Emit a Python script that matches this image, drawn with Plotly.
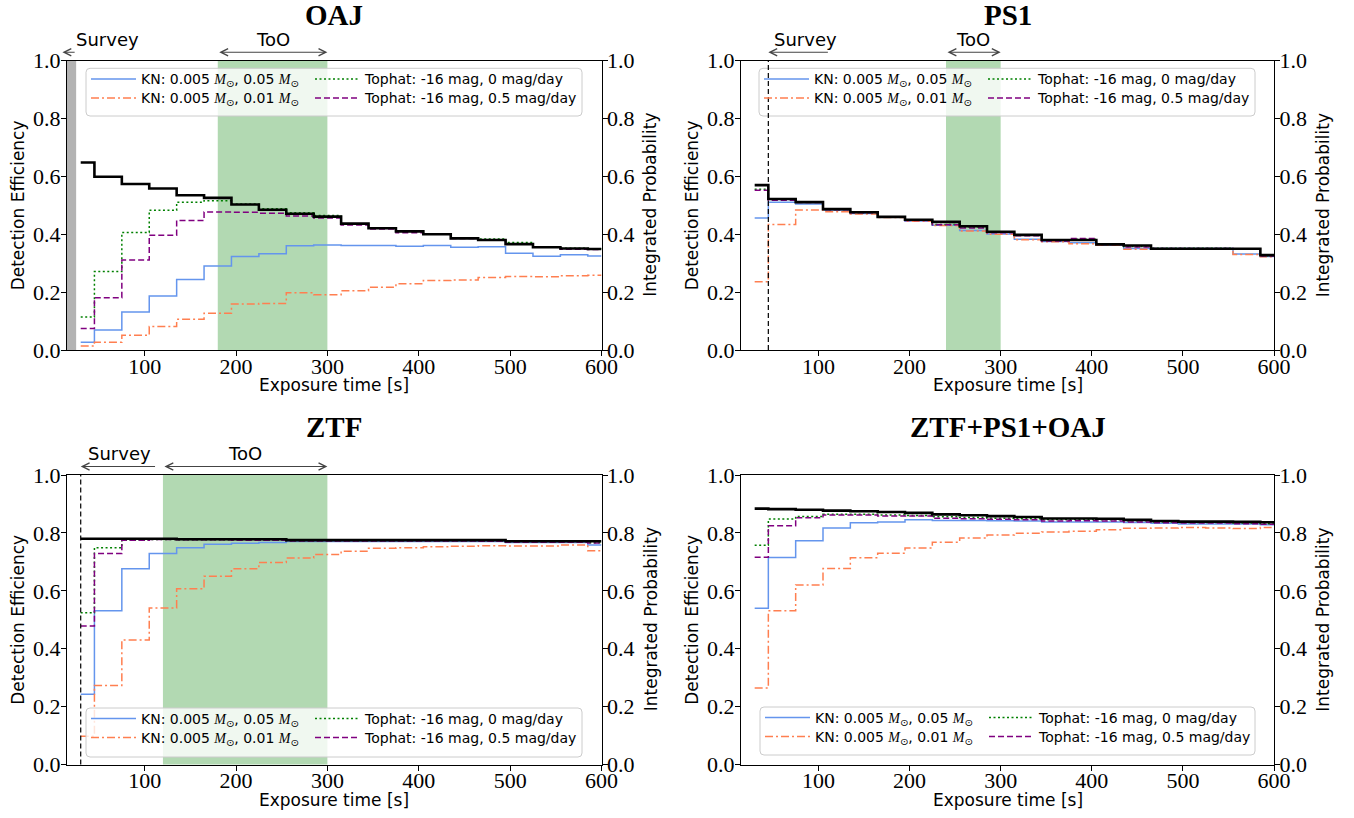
import plotly.graph_objects as go

# ---------------- data ----------------
exposure_s = [30, 60, 90, 120, 150, 180, 210, 240, 270, 300,
              330, 360, 390, 420, 450, 480, 510, 540, 570, 600]

panel_titles = ["OAJ", "PS1", "ZTF", "ZTF+PS1+OAJ"]

M_SUN = "<span style='font-family:Liberation Serif'><i>M</i></span><sub>⊙</sub>"
series_labels = [
    "KN: 0.005 " + M_SUN + ", 0.05 " + M_SUN,
    "KN: 0.005 " + M_SUN + ", 0.01 " + M_SUN,
    "Tophat: -16 mag, 0 mag/day",
    "Tophat: -16 mag, 0.5 mag/day",
]

# OAJ
oaj_integrated_prob = [0.648, 0.599, 0.574, 0.558, 0.535, 0.526, 0.503, 0.485, 0.471, 0.461,
                       0.437, 0.421, 0.410, 0.400, 0.386, 0.380, 0.366, 0.355, 0.351, 0.349]
oaj_kn_005 = [0.027, 0.069, 0.131, 0.187, 0.244, 0.290, 0.323, 0.333, 0.360, 0.363,
              0.361, 0.361, 0.359, 0.361, 0.355, 0.357, 0.334, 0.324, 0.329, 0.325]
oaj_kn_001 = [0.014, 0.027, 0.051, 0.081, 0.106, 0.127, 0.159, 0.161, 0.198, 0.191,
              0.205, 0.217, 0.229, 0.240, 0.242, 0.251, 0.254, 0.253, 0.257, 0.258]
oaj_tophat_0 = [0.114, 0.271, 0.406, 0.483, 0.511, 0.516, 0.505, 0.488, 0.474, 0.465,
                0.435, 0.423, 0.411, 0.401, 0.388, 0.384, 0.372, 0.357, 0.352, 0.350]
oaj_tophat_05 = [0.074, 0.181, 0.311, 0.397, 0.448, 0.477, 0.476, 0.473, 0.463, 0.456,
                 0.432, 0.418, 0.405, 0.400, 0.385, 0.380, 0.366, 0.355, 0.348, 0.347]

# PS1
ps1_integrated_prob = [0.570, 0.522, 0.511, 0.487, 0.476, 0.460, 0.450, 0.443, 0.428, 0.409,
                       0.398, 0.380, 0.380, 0.365, 0.361, 0.350, 0.350, 0.350, 0.350, 0.328]
ps1_kn_005 = [0.456, 0.511, 0.505, 0.484, 0.472, 0.459, 0.446, 0.431, 0.413, 0.401,
              0.383, 0.375, 0.371, 0.363, 0.351, 0.351, 0.351, 0.351, 0.332, 0.323]
ps1_kn_001 = [0.236, 0.434, 0.484, 0.478, 0.470, 0.458, 0.445, 0.430, 0.411, 0.400,
              0.381, 0.374, 0.367, 0.362, 0.348, 0.350, 0.350, 0.350, 0.330, 0.322]
ps1_tophat_0 = [0.556, 0.520, 0.511, 0.486, 0.475, 0.460, 0.449, 0.434, 0.424, 0.407,
                0.397, 0.379, 0.383, 0.366, 0.358, 0.352, 0.352, 0.352, 0.349, 0.326]
ps1_tophat_05 = [0.552, 0.518, 0.510, 0.485, 0.474, 0.459, 0.448, 0.433, 0.422, 0.405,
                 0.395, 0.377, 0.385, 0.365, 0.356, 0.351, 0.351, 0.351, 0.350, 0.325]

# ZTF
ztf_integrated_prob = [0.780, 0.780, 0.780, 0.780, 0.778, 0.778, 0.778, 0.778, 0.775, 0.775,
                       0.775, 0.775, 0.775, 0.775, 0.775, 0.775, 0.771, 0.771, 0.771, 0.771]
ztf_kn_005 = [0.243, 0.531, 0.676, 0.729, 0.749, 0.761, 0.764, 0.767, 0.770, 0.770,
              0.770, 0.770, 0.770, 0.770, 0.770, 0.770, 0.767, 0.767, 0.767, 0.758]
ztf_kn_001 = [0.098, 0.273, 0.430, 0.541, 0.607, 0.650, 0.676, 0.698, 0.713, 0.725,
              0.737, 0.747, 0.749, 0.752, 0.754, 0.756, 0.755, 0.755, 0.758, 0.738]
ztf_tophat_0 = [0.524, 0.749, 0.775, 0.777, 0.776, 0.776, 0.776, 0.775, 0.773, 0.773,
                0.773, 0.773, 0.773, 0.773, 0.773, 0.772, 0.769, 0.769, 0.769, 0.766]
ztf_tophat_05 = [0.478, 0.729, 0.775, 0.777, 0.776, 0.776, 0.775, 0.775, 0.772, 0.772,
                 0.772, 0.772, 0.772, 0.772, 0.772, 0.771, 0.768, 0.768, 0.768, 0.765]

# ZTF+PS1+OAJ
all_integrated_prob = [0.884, 0.882, 0.880, 0.877, 0.875, 0.872, 0.869, 0.864, 0.861, 0.858,
                       0.855, 0.850, 0.850, 0.849, 0.845, 0.841, 0.839, 0.839, 0.838, 0.837]
all_kn_005 = [0.540, 0.715, 0.773, 0.817, 0.835, 0.838, 0.845, 0.843, 0.843, 0.842,
              0.841, 0.838, 0.838, 0.838, 0.836, 0.833, 0.831, 0.831, 0.831, 0.828]
all_kn_001 = [0.264, 0.531, 0.620, 0.677, 0.714, 0.730, 0.748, 0.768, 0.782, 0.793,
              0.799, 0.803, 0.806, 0.811, 0.816, 0.817, 0.819, 0.817, 0.815, 0.819]
all_tophat_0 = [0.757, 0.848, 0.857, 0.864, 0.864, 0.862, 0.860, 0.856, 0.853, 0.851,
                0.849, 0.846, 0.846, 0.845, 0.842, 0.838, 0.836, 0.836, 0.834, 0.832]
all_tophat_05 = [0.716, 0.825, 0.852, 0.862, 0.862, 0.858, 0.858, 0.851, 0.849, 0.847,
                 0.845, 0.841, 0.842, 0.841, 0.838, 0.835, 0.834, 0.834, 0.832, 0.830]

# ToO windows (s), survey exposures (s)
too_windows = [(180, 300), (240, 300), (120, 300), None]
survey_arrow = [(25, 10), (112, 45), (113, 30), None]   # (tail, head)
survey_text_x = [59, 86, 72, None]
survey_vline = [None, 45, 30, None]

# ---------------- styling ----------------
W, H = 1354, 818
SANS = "DejaVu Sans"
SERIF = "Liberation Serif"
colors = ["#6495ED", "#FF7F50", "#008000", "#800080"]
dashes = ["solid", "8px,3px,2px,3px", "2px,2.5px", "6px,3px"]
widths = [1.5, 1.5, 1.5, 1.5]
# legend slot of each series: (column offset px, row offset px from box top)
legend_slots = [(0, 11), (0, 30), (224, 11), (224, 30)]

# panel boxes in screen pixels: (left, right, top, bottom)
boxes = [(67, 601.5, 60.7, 350), (741, 1274, 60.7, 350),
         (67, 601.5, 475, 764.5), (741, 1274, 475, 764.5)]
# legend boxes in screen pixels: (left, right, top, bottom)
leg_boxes = [(86, 582, 68.3, 116), (759, 1255, 68.3, 116),
             (86, 582, 708, 757), (760, 1255, 707, 755)]

panel_data = [
    (oaj_integrated_prob, [oaj_kn_005, oaj_kn_001, oaj_tophat_0, oaj_tophat_05]),
    (ps1_integrated_prob, [ps1_kn_005, ps1_kn_001, ps1_tophat_0, ps1_tophat_05]),
    (ztf_integrated_prob, [ztf_kn_005, ztf_kn_001, ztf_tophat_0, ztf_tophat_05]),
    (all_integrated_prob, [all_kn_005, all_kn_001, all_tophat_0, all_tophat_05]),
]


def px(xp):
    return xp / W


def py(yp):
    return 1 - yp / H


def rounded_box(l, r, t, b, rad=4):
    return ("M{a},{t0} L{b1},{t0} Q{r0},{t0} {r0},{t1} L{r0},{b1y} Q{r0},{b0} {b1},{b0} "
            "L{a},{b0} Q{l0},{b0} {l0},{b1y} L{l0},{t1} Q{l0},{t0} {a},{t0} Z").format(
        a=px(l + rad), b1=px(r - rad), l0=px(l), r0=px(r),
        t0=py(t), t1=py(t + rad), b0=py(b), b1y=py(b - rad))


fig = go.Figure()
layout = dict(
    width=W, height=H,
    margin=dict(l=0, r=0, t=0, b=0, autoexpand=False),
    paper_bgcolor="white", plot_bgcolor="white",
    showlegend=True,
    shapes=[], annotations=[],
)

tickfont = dict(family=SERIF, size=22, color="black")
LABEL_SIZE = 17
ANNOT_SIZE = 18

for i in range(4):
    n = i + 1
    xs = "" if n == 1 else str(n)
    xa, ya, yr = "x" + xs, "y" + xs, "y" + str(n + 4)
    l, r, t, b = boxes[i]
    layout["xaxis" + xs] = dict(
        domain=[px(l), px(r)], anchor=ya, range=[15, 600],
        tickvals=[100, 200, 300, 400, 500, 600],
        ticks="outside", ticklen=5, tickwidth=1, tickcolor="black",
        showline=True, linecolor="black", linewidth=1.2, mirror=True,
        showgrid=False, zeroline=False, tickfont=tickfont, ticklabelstandoff=-9,
    )
    yt = [0, 0.2, 0.4, 0.6, 0.8, 1.0]
    ytt = ["0.0", "0.2", "0.4", "0.6", "0.8", "1.0"]
    layout["yaxis" + xs] = dict(
        domain=[py(b), py(t)], anchor=xa, range=[0, 1],
        tickvals=yt, ticktext=ytt,
        ticks="outside", ticklen=5, tickwidth=1, tickcolor="black",
        showline=True, linecolor="black", linewidth=1.2,
        showgrid=False, zeroline=False, tickfont=tickfont, ticklabelstandoff=-4,
    )
    layout["yaxis" + str(n + 4)] = dict(
        overlaying=ya, anchor=xa, side="right", range=[0, 1],
        tickvals=yt, ticktext=ytt,
        ticks="outside", ticklen=5, tickwidth=1, tickcolor="black",
        showline=True, linecolor="black", linewidth=1.2,
        showgrid=False, zeroline=False, tickfont=tickfont, ticklabelstandoff=-5,
    )

    integ, series = panel_data[i]
    ll, lr, lt, lb = leg_boxes[i]
    for k in range(4):
        idx = 4 * i + k + 1
        lname = "legend" if idx == 1 else "legend" + str(idx)
        fig.add_trace(go.Scatter(
            x=exposure_s, y=series[k], mode="lines", line_shape="hvh",
            name=series_labels[k],
            line=dict(color=colors[k], width=widths[k], dash=dashes[k]),
            xaxis=xa, yaxis=ya, legend=lname,
            hoverinfo="skip",
        ))
        dx, dy = legend_slots[k]
        layout[lname] = dict(
            x=px(ll + dx), y=py(lt + dy), xanchor="left", yanchor="middle",
            orientation="v", itemwidth=45,
            bgcolor="rgba(0,0,0,0)", borderwidth=0,
            font=dict(family=SANS, size=14, color="black"),
        )
    fig.add_trace(go.Scatter(
        x=exposure_s, y=integ, mode="lines", line_shape="hvh",
        line=dict(color="black", width=2.6), showlegend=False,
        xaxis=xa, yaxis=yr, hoverinfo="skip",
    ))

    # legend frame
    layout["shapes"].append(dict(
        type="path", xref="paper", yref="paper", path=rounded_box(ll, lr, lt, lb),
        fillcolor="rgba(255,255,255,0.8)", line=dict(color="#cccccc", width=1),
        layer="above"))

    # ToO band
    if too_windows[i]:
        x0, x1 = too_windows[i]
        layout["shapes"].append(dict(
            type="rect", xref=xa, yref=ya + " domain", x0=x0, x1=x1, y0=0, y1=1,
            fillcolor="rgba(0,128,0,0.3)", line=dict(width=0), layer="below"))
    if survey_vline[i]:
        layout["shapes"].append(dict(
            type="line", xref=xa, yref=ya + " domain",
            x0=survey_vline[i], x1=survey_vline[i], y0=0, y1=1,
            line=dict(color="black", width=1.2, dash="5px,3px"), layer="above"))

    # titles
    cx = px((l + r) / 2)
    title_y = py(15) if i < 2 else py(427)
    layout["annotations"].append(dict(
        text="<b>" + panel_titles[i] + "</b>", xref="paper", yref="paper",
        x=cx, y=title_y, showarrow=False, xanchor="center", yanchor="middle",
        font=dict(family=SERIF, size=29, color="black")))
    # axis titles
    layout["annotations"].append(dict(
        text="Exposure time [s]", xref="paper", yref="paper",
        x=cx, y=py(b + 35), showarrow=False, xanchor="center", yanchor="middle",
        font=dict(family=SANS, size=LABEL_SIZE, color="black")))
    layout["annotations"].append(dict(
        text="Detection Efficiency", xref="paper", yref="paper",
        x=px(l - 49), y=py((t + b) / 2), showarrow=False, textangle=-90,
        xanchor="center", yanchor="middle",
        font=dict(family=SANS, size=LABEL_SIZE, color="black")))
    layout["annotations"].append(dict(
        text="Integrated Probability", xref="paper", yref="paper",
        x=px(r + 49), y=py((t + b) / 2), showarrow=False, textangle=-90,
        xanchor="center", yanchor="middle",
        font=dict(family=SANS, size=LABEL_SIZE, color="black")))

    # Survey / ToO arrows
    arrow_y = py(t - 8.5)
    text_y = py(t - 21)
    if survey_arrow[i]:
        tail, head = survey_arrow[i]
        layout["annotations"].append(dict(
            text="", x=head, y=arrow_y, xref=xa, yref="paper",
            ax=tail, axref=xa, ay=0, ayref="pixel",
            showarrow=True, arrowhead=5, arrowside="end", arrowsize=1.3,
            arrowwidth=1.1, arrowcolor="#444444", standoff=0, startstandoff=0))
        layout["annotations"].append(dict(
            text="Survey", x=survey_text_x[i], y=text_y, xref=xa, yref="paper",
            showarrow=False, xanchor="center", yanchor="middle",
            font=dict(family=SANS, size=ANNOT_SIZE, color="black")))
    if too_windows[i]:
        x0, x1 = too_windows[i]
        layout["annotations"].append(dict(
            text="", x=x1, y=arrow_y, xref=xa, yref="paper",
            ax=x0, axref=xa, ay=0, ayref="pixel",
            showarrow=True, arrowhead=5, arrowside="start+end", arrowsize=1.3,
            arrowwidth=1.1, arrowcolor="#444444", standoff=0, startstandoff=0))
        layout["annotations"].append(dict(
            text="ToO", x=(x0 + x1) / 2, y=text_y, xref=xa, yref="paper",
            showarrow=False, xanchor="center", yanchor="middle",
            font=dict(family=SANS, size=ANNOT_SIZE, color="black")))

# OAJ grey band (survey)
layout["shapes"].append(dict(
    type="rect", xref="x", yref="y domain", x0=15, x1=25, y0=0, y1=1,
    fillcolor="rgba(128,128,128,0.6)", line=dict(width=0), layer="below"))

fig.update_layout(**layout)
# remove the default 8px page margin so the figure fills the window exactly
fig.write_html("out.html", config={"displayModeBar": False},
               post_script="document.body.style.margin='0px';")
